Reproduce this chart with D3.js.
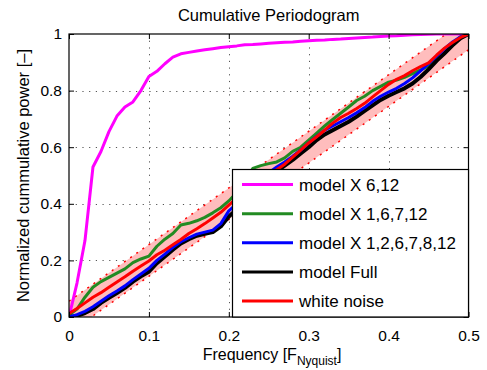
<!DOCTYPE html>
<html>
<head>
<meta charset="utf-8">
<title>Cumulative Periodogram</title>
<script src="https://cdn.jsdelivr.net/npm/d3@7/dist/d3.min.js"></script>
<style>
  body { margin: 0; background: #ffffff; }
  svg text { font-family: "Liberation Sans", Arial, Helvetica, sans-serif; fill: #000; }
</style>
</head>
<body>
<svg id="chart" width="487" height="370"></svg>
<script>
// frequency grid [F_Nyquist]
var freq = [0, 0.01, 0.02, 0.03, 0.04, 0.05, 0.06, 0.07, 0.08, 0.09,
            0.10, 0.11, 0.12, 0.13, 0.14, 0.15, 0.16, 0.17, 0.18, 0.19,
            0.20, 0.21, 0.22, 0.23, 0.24, 0.25, 0.26, 0.27, 0.28, 0.29,
            0.30, 0.31, 0.32, 0.33, 0.34, 0.35, 0.36, 0.37, 0.38, 0.39,
            0.40, 0.41, 0.42, 0.43, 0.44, 0.45, 0.46, 0.47, 0.48, 0.49, 0.50];

var modelX612 = [0, 0.12, 0.27, 0.53, 0.585, 0.655, 0.71, 0.742, 0.76, 0.80,
                 0.85, 0.868, 0.895, 0.918, 0.93, 0.935, 0.94, 0.944, 0.948, 0.952,
                 0.955, 0.958, 0.962, 0.963, 0.965, 0.967, 0.969, 0.971, 0.972, 0.974,
                 0.976, 0.978, 0.979, 0.981, 0.982, 0.984, 0.986, 0.988, 0.989, 0.991,
                 0.993, 0.994, 0.996, 0.997, 0.998, 0.999, 1, 1, 1, 1, 1];

var modelX16712 = [0.007, 0.028, 0.07, 0.105, 0.125, 0.14, 0.155, 0.17, 0.192, 0.205,
                   0.215, 0.25, 0.275, 0.295, 0.325, 0.331, 0.34, 0.352, 0.368, 0.386,
                   0.41, 0.44, 0.48, 0.525, 0.535, 0.542, 0.548, 0.562, 0.585, 0.6,
                   0.625, 0.65, 0.675, 0.698, 0.72, 0.742, 0.765, 0.78, 0.8, 0.815,
                   0.83, 0.837, 0.847, 0.86, 0.873, 0.886, 0.91, 0.93, 0.96, 0.99, 1];

var modelX12678 = [0, 0.008, 0.02, 0.036, 0.056, 0.075, 0.092, 0.11, 0.132, 0.152,
                   0.172, 0.2, 0.222, 0.246, 0.266, 0.28, 0.293, 0.30, 0.307, 0.33,
                   0.375, 0.40, 0.43, 0.46, 0.49, 0.51, 0.53, 0.548, 0.568, 0.59,
                   0.615, 0.638, 0.66, 0.675, 0.69, 0.705, 0.722, 0.74, 0.762, 0.78,
                   0.795, 0.808, 0.825, 0.845, 0.87, 0.895, 0.922, 0.948, 0.972, 0.99, 1];

var modelFull = [0, 0.004, 0.014, 0.028, 0.05, 0.068, 0.085, 0.103, 0.125, 0.144,
                 0.16, 0.19, 0.214, 0.238, 0.26, 0.275, 0.287, 0.294, 0.30, 0.32,
                 0.355, 0.38, 0.41, 0.44, 0.47, 0.495, 0.515, 0.535, 0.555, 0.578,
                 0.60, 0.625, 0.645, 0.66, 0.675, 0.69, 0.708, 0.728, 0.748, 0.767,
                 0.782, 0.795, 0.808, 0.825, 0.848, 0.875, 0.905, 0.932, 0.96, 0.985, 1];

var whiteNoise = [0.012, 0.03, 0.05, 0.07, 0.086, 0.105, 0.124, 0.142, 0.162, 0.18,
                  0.198, 0.22, 0.236, 0.255, 0.274, 0.295, 0.312, 0.33, 0.35, 0.37,
                  0.395, 0.42, 0.44, 0.46, 0.48, 0.50, 0.52, 0.54, 0.565, 0.59,
                  0.615, 0.637, 0.66, 0.685, 0.705, 0.72, 0.737, 0.755, 0.778, 0.80,
                  0.822, 0.84, 0.853, 0.87, 0.885, 0.898, 0.925, 0.95, 0.97, 0.988, 1];

// confidence band around the white noise diagonal
var bandFreq = [0, 0.5];
var bandCenter = [0, 1];
var bandHalfWidth = 0.056;

var xTicks = [0, 0.1, 0.2, 0.3, 0.4, 0.5];
var xTickLabels = ["0", "0.1", "0.2", "0.3", "0.4", "0.5"];
var yTicks = [0, 0.2, 0.4, 0.6, 0.8, 1];
var yTickLabels = ["0", "0.2", "0.4", "0.6", "0.8", "1"];

var seriesNames = ["model X 6,12", "model X 1,6,7,12", "model X 1,2,6,7,8,12", "model Full", "white noise"];
var seriesColors = ["#ff00ff", "#228b22", "#0000ff", "#000000", "#ff0000"];
var seriesValues = [modelX612, modelX16712, modelX12678, modelFull, whiteNoise];

var svg = d3.select("#chart");
var pLeft = 69, pRight = 468.5, pTop = 34, pBottom = 317;

var x = d3.scaleLinear().domain([0, 0.5]).range([pLeft, pRight]);
var y = d3.scaleLinear().domain([0, 1]).range([pBottom, pTop]);

svg.append("defs").append("clipPath").attr("id", "plotclip")
    .append("rect").attr("x", pLeft).attr("y", pTop)
    .attr("width", pRight - pLeft).attr("height", pBottom - pTop);

// grid
var grid = svg.append("g").attr("stroke", "#555").attr("stroke-width", 1)
    .attr("stroke-dasharray", "1.2,5.5");
grid.selectAll(".gx").data(xTicks.slice(1, -1)).enter().append("line")
    .attr("x1", function (d) { return Math.round(x(d)) + 0.5; })
    .attr("x2", function (d) { return Math.round(x(d)) + 0.5; })
    .attr("y1", pTop).attr("y2", pBottom);
grid.selectAll(".gy").data(yTicks.slice(1, -1)).enter().append("line")
    .attr("y1", function (d) { return Math.round(y(d)) + 0.5; })
    .attr("y2", function (d) { return Math.round(y(d)) + 0.5; })
    .attr("x1", pLeft).attr("x2", pRight);

// band
var plot = svg.append("g").attr("clip-path", "url(#plotclip)");
var bandData = bandFreq.map(function (f, i) { return { f: f, c: bandCenter[i] }; });
plot.append("path").datum(bandData)
    .attr("fill", "#ffbdbd")
    .attr("d", d3.area()
        .x(function (d) { return x(d.f); })
        .y0(function (d) { return y(d.c - bandHalfWidth); })
        .y1(function (d) { return y(d.c + bandHalfWidth); }));
[-1, 1].forEach(function (s) {
    plot.append("path").datum(bandData)
        .attr("fill", "none").attr("stroke", "#ff0000").attr("stroke-width", 1.5)
        .attr("stroke-dasharray", "2,5.5")
        .attr("d", d3.line()
            .x(function (d) { return x(d.f); })
            .y(function (d) { return y(d.c + s * bandHalfWidth); }));
});

// curves
var line = d3.line()
    .x(function (d) { return x(d[0]); })
    .y(function (d) { return y(d[1]); });
var drawOrder = [0, 1, 3, 2, 4];
drawOrder.forEach(function (k) {
    var pts = freq.map(function (f, i) { return [f, seriesValues[k][i]]; });
    plot.append("path").datum(pts)
        .attr("fill", "none")
        .attr("stroke", seriesColors[k])
        .attr("stroke-width", k === 3 ? 4 : 3)
        .attr("stroke-linejoin", "round")
        .attr("d", line);
});

// axes
var xAxis = svg.append("g").attr("transform", "translate(0," + pBottom + ")")
    .call(d3.axisBottom(x).tickValues(xTicks).tickSize(-5).tickPadding(12.5)
        .tickFormat(function (d, i) { return xTickLabels[i]; }));
var yAxis = svg.append("g").attr("transform", "translate(" + pLeft + ",0)")
    .call(d3.axisLeft(y).tickValues(yTicks).tickSize(-5).tickPadding(7)
        .tickFormat(function (d, i) { return yTickLabels[i]; }));
var xAxisTop = svg.append("g").attr("transform", "translate(0," + pTop + ")")
    .call(d3.axisTop(x).tickValues(xTicks).tickSize(-5).tickFormat(""));
var yAxisRight = svg.append("g").attr("transform", "translate(" + pRight + ",0)")
    .call(d3.axisRight(y).tickValues(yTicks).tickSize(-5).tickFormat(""));
[xAxis, yAxis, xAxisTop, yAxisRight].forEach(function (a) {
    a.select(".domain").remove();
    a.selectAll("line").attr("stroke", "#000");
    a.selectAll("text").style("font-size", "15.5px")
        .style("font-family", "'Liberation Sans', Arial, sans-serif");
});

svg.append("rect").attr("x", pLeft).attr("y", pTop)
    .attr("width", pRight - pLeft).attr("height", pBottom - pTop)
    .attr("fill", "none").attr("stroke", "#000").attr("stroke-width", 1.2);

// titles
svg.append("text").attr("x", (pLeft + pRight) / 2).attr("y", 21)
    .attr("text-anchor", "middle").style("font-size", "16.5px")
    .text("Cumulative Periodogram");

svg.append("text").attr("transform", "translate(29," + ((pTop + pBottom) / 2) + ") rotate(-90)")
    .attr("text-anchor", "middle").style("font-size", "16.5px")
    .text("Normalized cummulative power [\u2013]");

var xl = svg.append("text").attr("x", 272).attr("y", 360)
    .attr("text-anchor", "middle").style("font-size", "16px");
xl.append("tspan").text("Frequency [F");
xl.append("tspan").attr("dy", 5).style("font-size", "12px").text("Nyquist");
xl.append("tspan").attr("dy", -5).text("]");

// legend
var lg = svg.append("g");
lg.append("rect").attr("x", 232.5).attr("y", 169.5)
    .attr("width", pRight - 232.5).attr("height", pBottom - 169.5)
    .attr("fill", "#fff").attr("stroke", "#000").attr("stroke-width", 1.2);
var itemY = d3.scaleLinear().domain([0, 4]).range([184.5, 301]);
seriesNames.forEach(function (name, i) {
    lg.append("line").attr("x1", 242).attr("x2", 293)
        .attr("y1", itemY(i)).attr("y2", itemY(i))
        .attr("stroke", seriesColors[i]).attr("stroke-width", 3);
    lg.append("text").attr("x", 299).attr("y", itemY(i)).attr("dy", "0.36em")
        .style("font-size", "17px").text(name);
});
</script>
</body>
</html>
